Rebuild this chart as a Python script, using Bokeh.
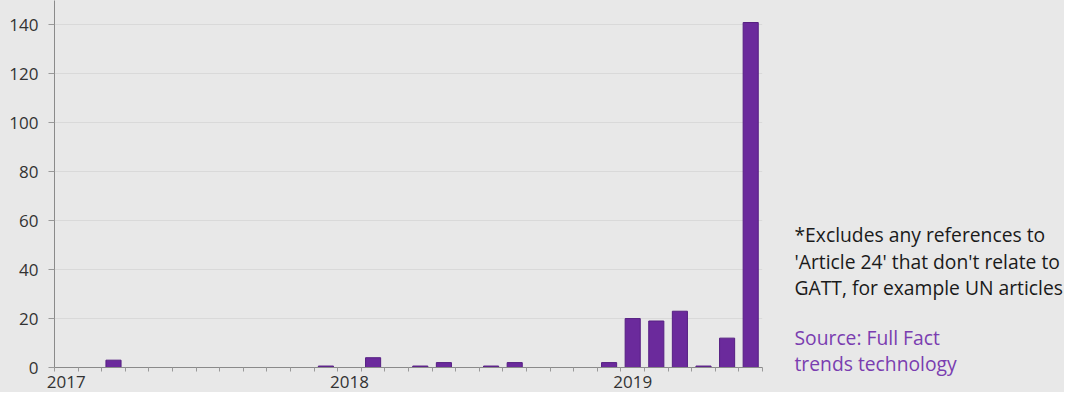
from bokeh.plotting import figure
from bokeh.models import ColumnDataSource, FixedTicker, Range1d
from bokeh.layouts import row, column
from bokeh.core.properties import value
from bokeh.embed import file_html
from bokeh.resources import INLINE
import numpy as np

# ---- data ----
months = [
    "2017-01", "2017-02", "2017-03", "2017-04", "2017-05", "2017-06",
    "2017-07", "2017-08", "2017-09", "2017-10", "2017-11", "2017-12",
    "2018-01", "2018-02", "2018-03", "2018-04", "2018-05", "2018-06",
    "2018-07", "2018-08", "2018-09", "2018-10", "2018-11", "2018-12",
    "2019-01", "2019-02", "2019-03", "2019-04", "2019-05", "2019-06",
]
counts = [
    0, 0, 3, 0, 0, 0, 0, 0, 0, 0, 0, 0.6,
    0, 4, 0, 0.6, 2, 0, 0.6, 2, 0, 0, 0, 2,
    20, 19, 23, 0.6, 12, 141,
]
year_labels = ["2017", "2018", "2019"]
y_ticks = [0, 20, 40, 60, 80, 100, 120, 140]
note_lines = [
    "*Excludes any references to",
    "'Article 24' that don't relate to",
    "GATT, for example UN articles",
]
source_lines = ["Source: Full Fact", "trends technology"]

BG = "#e8e8e8"
PURPLE = "#6b2a9c"
FONT = "Open Sans"
H = 392

x_pos = np.arange(len(months)) + 0.5
src = ColumnDataSource(dict(x=x_pos, count=counts, month=months))

p = figure(
    width=780, height=H,
    x_range=Range1d(0, len(months)), y_range=Range1d(0, 150),
    output_backend="svg", toolbar_location=None,
    min_border_left=54, min_border_right=18, min_border_top=0, min_border_bottom=25,
    background_fill_color=BG, border_fill_color=BG, outline_line_color=None,
)

p.vbar(x="x", top="count", width=0.64, source=src,
       fill_color=PURPLE, line_color="#561f82", line_width=1)

# x axis: year labels centred on January, ticks at month boundaries
year_pos = [months.index(y + "-01") + 0.5 for y in year_labels]
p.xaxis.ticker = FixedTicker(ticks=year_pos, minor_ticks=list(range(len(months) + 1)))
p.xaxis.major_label_overrides = {pos: lab for pos, lab in zip(year_pos, year_labels)}
p.xaxis.major_tick_out = 0
p.xaxis.major_tick_in = 0
p.xaxis.minor_tick_out = 4
p.xaxis.minor_tick_in = 0
p.xaxis.minor_tick_line_color = "#999999"
p.xaxis.axis_line_color = "#8a8a8a"
p.xaxis.major_label_standoff = 4

p.yaxis.ticker = FixedTicker(ticks=y_ticks)
p.yaxis.major_tick_out = 6
p.yaxis.major_tick_in = 0
p.yaxis.minor_tick_line_color = None
p.yaxis.major_tick_line_color = "#999999"
p.yaxis.axis_line_color = "#8a8a8a"
p.yaxis.major_label_standoff = 10

for ax in (p.xaxis, p.yaxis):
    ax.major_label_text_font = FONT
    ax.major_label_text_font_size = "17px"
    ax.major_label_text_color = "#333333"

p.xgrid.grid_line_color = None
p.ygrid.grid_line_color = "#d9d9d9"
p.ygrid.grid_line_width = 1

# ---- side note panel ----
W2 = 1064 - 780
t = figure(
    width=W2, height=H,
    x_range=Range1d(0, W2), y_range=Range1d(H, 0),
    output_backend="svg", toolbar_location=None,
    x_axis_location=None, y_axis_location=None,
    min_border_left=0, min_border_right=0, min_border_top=0, min_border_bottom=0,
    background_fill_color=BG, border_fill_color=BG, outline_line_color=None,
)
t.xgrid.grid_line_color = None
t.ygrid.grid_line_color = None

note_x = 14
note_y = [234, 260.5, 287]
src_y = [337, 363]
t.text(x=[note_x] * len(note_lines), y=note_y, text=note_lines,
       text_font=value(FONT), text_font_size="19.3px", text_color="#1a1a1a",
       text_baseline="middle", text_align="left")
t.text(x=[note_x] * len(source_lines), y=src_y, text=source_lines,
       text_font=value(FONT), text_font_size="19.3px", text_color="#7a3db0",
       text_baseline="middle", text_align="left")

layout = row(p, column(t, styles={"background-color": BG}), spacing=0,
             styles={"background-color": BG})
open("out.html", "w").write(file_html(layout, INLINE))
